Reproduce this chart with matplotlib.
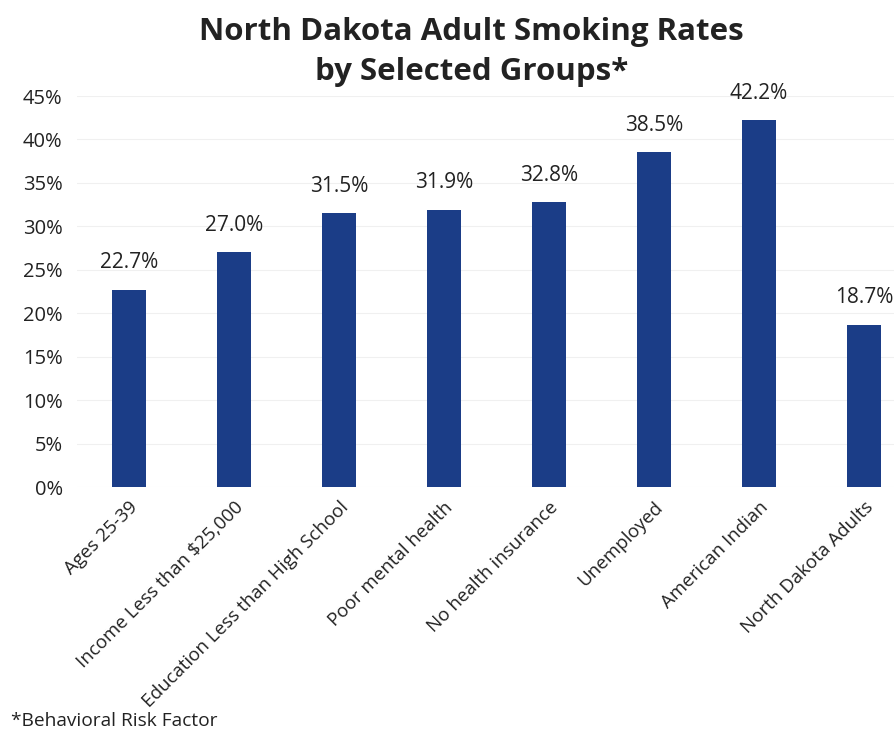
import numpy as np
import matplotlib.pyplot as plt

groups = ["Ages 25-39", "Income Less than $25,000", "Education Less than High School",
          "Poor mental health", "No health insurance", "Unemployed",
          "American Indian", "North Dakota Adults"]
rates = [22.7, 27.0, 31.5, 31.9, 32.8, 38.5, 42.2, 18.7]

plt.rcParams['font.family'] = ['Open Sans', 'DejaVu Sans']

fig = plt.figure(figsize=(8.95, 7.33), dpi=100)
ax = fig.add_axes([0.0855, 0.3356, 0.9145, 0.5334])

x = np.arange(len(groups))
ax.bar(x, rates, width=0.315, color="#1b3d87")

# value labels above each bar
for xi, r in zip(x, rates):
    ax.text(xi, r + 1.9, f"{r:.1f}%", ha="center", va="bottom", fontsize=15, color="#222222")

ax.set_ylim(0, 45)
ax.set_xlim(-0.5, 7.295)
ax.set_yticks(np.arange(0, 46, 5))
ax.set_yticklabels([f"{v}%" for v in range(0, 46, 5)], fontsize=14.5, color="#222222")
ax.set_xticks(x)
ax.set_xticklabels(groups, rotation=45, ha="right", rotation_mode="anchor", fontsize=13.5, color="#222222")
ax.tick_params(length=0, axis="y", pad=10)
ax.tick_params(length=0, axis="x", pad=8)
ax.grid(axis="y", color="#f0f0f0", linewidth=0.8)
ax.set_axisbelow(True)
for s in ax.spines.values():
    s.set_visible(False)

fig.text(0.527, 0.956, "North Dakota Adult Smoking Rates", ha="center", va="center",
         fontsize=22.5, fontweight="bold", color="#222222")
fig.text(0.527, 0.902, "by Selected Groups*", ha="center", va="center",
         fontsize=22.5, fontweight="bold", color="#222222")
fig.text(0.012, 0.004, "*Behavioral Risk Factor", ha="left", va="bottom", fontsize=13.8, color="#222222")

fig.savefig("out.png", dpi=100)
